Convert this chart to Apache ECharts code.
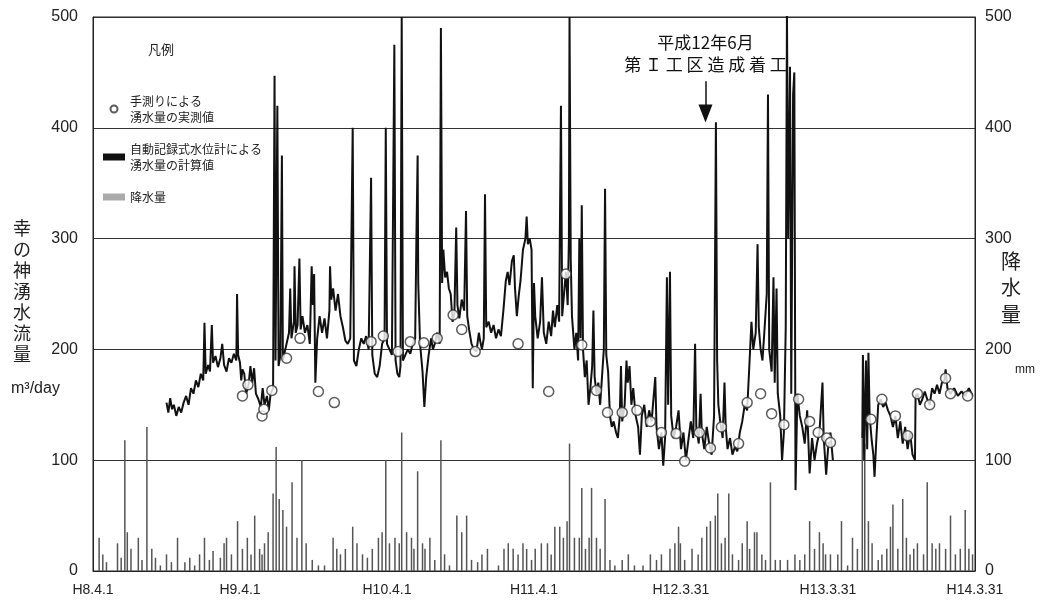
<!DOCTYPE html>
<html><head><meta charset="utf-8">
<script src="https://cdn.jsdelivr.net/npm/echarts@6/dist/echarts.min.js"></script>
<style>html,body{margin:0;padding:0;background:#fff}#c{width:1041px;height:605px}</style>
</head><body><div id="c"></div>
<script>
// x = months since H8.4.1
const xTickLabels = ['H8.4.1','H9.4.1','H10.4.1','H11.4.1','H12.3.31','H13.3.31','H14.3.31'];
const yTicks = [0,100,200,300,400,500];

const nameMeasured = '手測りによる\n湧水量の実測値';
const nameFlow = '自動記録式水位計による\n湧水量の計算値';
const nameRain = '降水量';

const flowData = [
[6.0,152],[6.15,143],[6.3,156],[6.45,146],[6.6,150],[6.8,140],[7.0,148],[7.2,143],[7.4,152],[7.6,158],[7.8,150],[8.0,165],[8.2,160],[8.4,172],[8.6,166],[8.8,178],[9.0,172],[9.1,224],[9.2,178],[9.4,186],[9.55,180],[9.7,222],[9.8,188],[10.0,194],[10.2,184],[10.4,192],[10.55,205],[10.7,186],[10.9,180],[11.1,192],[11.3,188],[11.5,196],[11.7,190],[11.76,250],[11.85,195],[12.0,188],[12.1,172],
[12.2,182],[12.35,178],[12.5,160],[12.7,168],[12.85,185],[13.0,170],[13.15,183],[13.3,160],[13.5,155],[13.7,148],[13.85,165],[14.0,150],[14.2,158],[14.35,145],[14.5,160],[14.7,165],[14.82,447],[14.9,190],[15.05,420],[15.15,185],[15.3,195],[15.42,375],[15.5,190],[15.7,200],
[15.8,205],[16.0,215],[16.1,255],[16.2,210],[16.4,225],[16.45,275],[16.55,215],[16.7,222],[16.85,282],[16.95,218],[17.1,230],[17.3,215],[17.5,222],[17.7,205],[17.85,275],[17.95,240],[18.05,268],[18.15,170],[18.3,210],[18.5,230],[18.7,215],[18.9,228],[19.1,210],[19.3,235],[19.35,275],[19.45,245],[19.6,255],[19.8,235],[20.0,250],[20.2,230],[20.4,220],[20.6,208],[20.8,205],[21.0,210],[21.2,400],[21.3,190],[21.5,185],[21.7,200],[21.9,210],[22.1,205],[22.3,212],[22.5,200],[22.7,355],[22.8,195],[23.0,178],[23.2,175],[23.4,185],[23.6,205],[23.8,210],[23.9,400],[24.0,205],
[24.2,200],[24.4,195],[24.6,475],[24.7,190],[24.85,178],[25.0,175],[25.1,185],[25.2,500],[25.3,190],[25.5,195],[25.7,200],[25.9,196],[26.1,205],[26.3,210],[26.4,300],[26.5,375],[26.55,260],[26.7,205],[26.9,180],[27.05,148],[27.2,175],[27.4,195],[27.6,210],[27.75,200],[27.9,205],[28.1,215],[28.3,205],[28.4,490],[28.5,260],[28.6,290],[28.75,265],[28.9,270],[29.05,255],[29.2,250],[29.35,225],[29.5,232],[29.65,310],[29.75,240],[29.9,228],[30.1,245],[30.3,235],[30.45,325],[30.55,230],[30.7,218],[30.9,205],[31.1,200],[31.3,198],[31.5,215],[31.6,208],[31.75,200],[31.9,210],[32.0,340],[32.1,220],[32.3,225],[32.5,215],[32.7,222],[32.9,210],[33.1,218],[33.3,212],[33.5,235],[33.7,262],[33.85,270],[34.0,258],[34.2,280],[34.35,285],[34.45,255],[34.6,230],[34.75,248],[34.9,262],[35.1,290],[35.3,300],[35.4,320],[35.5,295],[35.65,300],[35.8,290],[35.9,165],[36.0,260],
[36.1,230],[36.3,210],[36.5,225],[36.65,265],[36.8,215],[37.0,205],[37.2,225],[37.4,212],[37.55,235],[37.7,220],[37.9,240],[38.05,225],[38.2,420],[38.3,230],[38.45,250],[38.6,270],[38.75,240],[38.85,300],[38.9,500],[39.0,280],[39.1,230],[39.3,200],[39.45,215],[39.6,190],[39.7,300],[39.8,210],[39.9,330],[40.0,200],[40.15,175],[40.3,190],[40.45,150],[40.6,165],[40.75,185],[40.85,235],[40.95,175],[41.1,160],[41.25,170],[41.4,150],[41.55,175],[41.7,200],[41.8,345],[41.9,195],[42.05,180],[42.2,140],[42.35,130],[42.5,135],[42.7,125],[42.85,120],[43.0,140],[43.1,185],[43.2,135],[43.4,150],[43.55,190],[43.65,170],[43.8,185],[43.95,150],[44.1,165],[44.3,140],[44.5,130],[44.65,105],[44.8,140],[45.0,150],[45.2,130],[45.4,145],[45.6,135],[45.9,175],[46.0,130],[46.2,110],[46.4,125],[46.55,95],[46.7,120],[46.85,265],[46.95,150],[47.1,270],[47.2,140],[47.4,120],[47.6,130],[47.8,145],[48.0,110],
[48.2,125],[48.4,100],[48.6,118],[48.8,135],[49.0,120],[49.15,205],[49.25,130],[49.45,115],[49.6,160],[49.7,125],[49.9,110],[50.1,130],[50.3,115],[50.5,105],[50.7,140],[50.85,405],[50.95,190],[51.05,150],[51.2,135],[51.4,120],[51.55,170],[51.65,130],[51.8,110],[52.0,120],[52.2,105],[52.4,112],[52.6,108],[52.8,125],[53.0,135],[53.2,150],[53.4,145],[53.6,190],[53.75,225],[53.9,200],[54.1,215],[54.25,295],[54.35,220],[54.5,200],[54.65,190],[54.8,215],[55.0,250],[55.1,430],[55.2,200],[55.4,180],[55.55,265],[55.65,170],[55.8,255],[55.9,160],[56.1,140],[56.25,100],[56.4,125],[56.55,220],[56.65,505],[56.75,300],[56.9,455],[57.0,160],[57.15,430],[57.25,450],[57.35,73],[57.5,160],[57.7,140],[57.9,130],[58.1,115],[58.3,145],[58.5,88],[58.7,120],[58.9,100],[59.1,115],[59.3,125],[59.55,170],[59.65,120],[59.85,87],[60.0,110],[60.2,125],[60.4,100],
[61.5,'-'],
[62.8,120],[62.85,195],[62.95,100],[63.1,190],[63.2,110],[63.3,197],[63.4,140],[63.55,120],[63.7,105],[63.8,85],[63.95,120],[64.1,150],[64.3,155],[64.5,148],[64.7,152],[64.9,145],[65.1,140],[65.3,130],[65.5,140],[65.7,120],[65.9,135],[66.1,115],[66.3,130],[66.5,110],[66.7,125],[66.9,105],[67.1,100],[67.15,158],[67.3,160],[67.5,150],[67.7,155],[67.9,162],[68.1,155],[68.3,150],[68.5,165],[68.7,160],[68.9,168],[69.1,160],[69.3,170],[69.5,172],[69.6,182],[69.75,165],[70.0,160],[70.3,165],[70.6,158],[70.9,162],[71.2,158],[71.5,165],[71.8,158]
];

const measuredData = [
[12.2,158],[12.65,168],[13.8,140],[13.95,146],[14.6,163],[15.8,192],[16.9,210],[18.4,162],[19.7,152],[22.7,207],[23.7,212],[24.9,198],[25.9,207],[27.0,206],[28.1,210],[29.4,231],[30.1,218],[31.2,198],[34.7,205],[37.2,162],[38.6,268],[39.9,204],[41.1,163],[42.0,143],[43.2,143],[44.4,145],[45.5,135],[46.4,125],[47.6,124],[48.3,99],[49.5,125],[50.4,111],[51.3,130],[52.7,115],[53.4,152],[54.5,160],[55.4,142],[56.4,132],[57.6,155],[58.5,135],[59.2,125],[59.9,120],[60.2,116],[63.5,137],[64.4,155],[65.5,140],[66.5,122],[67.3,160],[68.3,150],[69.6,174],[70.0,160],[71.4,158]
];

const rainData = [
[0.5,30],[0.8,15],[1.1,8],[2.0,25],[2.3,12],[2.6,118],[2.8,35],[3.1,20],[3.7,30],[4.0,10],[4.4,130],[4.8,20],[5.1,12],[5.5,5],[6.0,15],[6.4,8],[6.9,30],[7.5,8],[7.9,12],[8.3,5],[8.7,15],[9.1,30],[9.5,10],[9.8,18],[10.4,12],[10.7,25],[10.9,30],[11.3,15],[11.8,45],
[12.2,20],[12.6,30],[12.9,15],[13.2,50],[13.6,20],[13.8,15],[14.0,25],[14.3,35],[14.7,70],[14.95,112],[15.2,65],[15.5,55],[15.8,40],[16.25,80],[16.65,30],[17.05,100],[17.4,25],[17.9,10],[18.4,5],[18.9,5],[19.6,30],[19.9,20],[20.2,15],[20.6,20],[21.2,40],[21.55,25],[22.0,15],[22.4,12],[22.8,20],[23.3,30],[23.6,35],
[23.9,100],[24.2,25],[24.65,30],[25.0,25],[25.2,125],[25.6,35],[26.0,30],[26.2,20],[26.5,90],[26.9,25],[27.1,20],[27.5,30],[27.9,10],[28.4,118],[28.7,15],[29.1,5],[29.7,50],[30.1,35],[30.5,50],[30.9,10],[31.4,8],[31.75,15],[32.2,20],[33.1,5],[33.55,20],[33.9,25],[34.3,20],[34.7,15],[35.1,25],[35.4,20],[35.8,10],
[36.1,20],[36.6,25],[37.1,25],[37.4,15],[37.7,40],[38.1,40],[38.4,30],[38.7,45],[38.9,115],[39.3,30],[39.7,30],[39.9,75],[40.2,20],[40.5,30],[40.7,75],[41.1,30],[41.4,20],[41.8,65],[42.2,10],[42.6,5],[43.2,10],[43.7,15],[44.2,5],[44.9,5],[45.5,15],[46.0,10],[46.4,15],[47.1,20],[47.5,25],[47.8,40],
[47.95,25],[48.3,10],[48.9,20],[49.4,15],[49.7,30],[50.1,40],[50.4,45],[50.8,50],[51.0,70],[51.3,25],[51.6,30],[51.9,70],[52.2,15],[52.7,10],[53.0,25],[53.4,45],[53.6,20],[54.0,35],[54.2,35],[54.6,15],[54.9,10],[55.3,80],[55.7,10],[56.1,10],[56.7,10],[57.3,15],[57.7,10],[58.1,15],[58.5,45],[58.9,20],[59.3,35],[59.6,25],
[59.8,15],[60.2,15],[60.8,15],[61.1,45],[61.6,5],[62.0,30],[62.4,20],[62.8,120],[63.0,115],[63.3,45],[63.6,25],[64.1,10],[64.4,15],[64.8,20],[65.1,40],[65.3,60],[65.7,20],[66.1,65],[66.4,30],[66.7,15],[67.0,20],[67.3,25],[67.8,15],[68.1,80],[68.5,25],[68.8,20],[69.1,25],[69.6,20],[70.0,50],[70.4,15],[70.8,20],[71.2,55],[71.5,20],[71.8,15]
];

const constructionMonth = 50; // H12.6
const annotationText = '平成12年6月\n第 Ｉ 工 区 造 成 着 工';

const chart = echarts.init(document.getElementById('c'), null, {renderer:'canvas'});
const numFont = 'Liberation Sans, Arial, sans-serif';
const jpFont = 'Noto Sans CJK JP, sans-serif';

chart.setOption({
  animation: false,
  backgroundColor: '#fff',
  title: {text: '凡例', left: 143, top: 38, textStyle: {fontSize: 13, fontWeight: 'normal', color: '#222', fontFamily: jpFont}},
  legend: {
    orient: 'vertical', left: 98, top: 88, itemWidth: 22, itemHeight: 7, itemGap: 16,
    selectedMode: false,
    textStyle: {fontSize: 12, lineHeight: 16, color: '#222', fontFamily: jpFont},
    data: [
      {name: nameMeasured, icon: 'circle'},
      {name: nameFlow, icon: 'rect'},
      {name: nameRain, icon: 'rect', itemStyle: {color: '#aaa'}}
    ]
  },
  grid: {left: 93, right: 66, top: 17, bottom: 34, show: true, borderColor: '#222', borderWidth: 1},
  xAxis: {
    type: 'value', min: 0, max: 72, interval: 12,
    axisLine: {show: true, lineStyle: {color: '#222'}},
    axisTick: {show: false}, splitLine: {show: false},
    axisLabel: {formatter: v => xTickLabels[Math.round(v/12)], fontSize: 14, color: '#222', margin: 12, fontFamily: numFont}
  },
  yAxis: [
    {type: 'value', min: 0, max: 500, interval: 100,
     axisLine: {show: true, lineStyle: {color: '#222'}}, axisTick: {show: false},
     splitLine: {show: true, lineStyle: {color: '#333', width: 1}},
     axisLabel: {fontSize: 16, color: '#222', margin: 15, fontFamily: numFont}},
    {type: 'value', min: 0, max: 500, interval: 100, position: 'right',
     axisLine: {show: true, lineStyle: {color: '#222'}}, axisTick: {show: false},
     splitLine: {show: false},
     axisLabel: {fontSize: 16, color: '#222', margin: 10, fontFamily: numFont}}
  ],
  graphic: [
    {type: 'text', left: 13, top: 218, style: {text: '幸\nの\n神\n湧\n水\n流\n量', font: '18px Noto Sans CJK JP', lineHeight: 21, fill: '#222'}},
    {type: 'text', left: 11, top: 381, style: {text: 'm³/day', font: '16px Liberation Sans', fill: '#222'}},
    {type: 'text', left: 1001, top: 248, style: {text: '降\n水\n量', font: '20px Noto Sans CJK JP', lineHeight: 26.5, fill: '#222'}},
    {type: 'text', left: 1015, top: 364, style: {text: 'mm', font: '12px Liberation Sans', fill: '#222'}}
  ],
  series: [
    {name: nameRain, type: 'bar', yAxisIndex: 1, data: rainData, barWidth: 1.5,
     itemStyle: {color: '#555'}, z: 1, silent: true},
    {name: nameFlow, type: 'line', data: flowData, showSymbol: false, symbol: 'none',
     lineStyle: {color: '#111', width: 2}, itemStyle: {color: '#111'}, z: 3, connectNulls: false,
     markLine: {
       silent: true, symbol: ['none', 'triangle'], symbolSize: [14, 18],
       lineStyle: {color: '#111', width: 1.5, type: 'solid'},
       label: {show: true, position: 'start', formatter: annotationText, fontSize: 17, lineHeight: 22,
               color: '#111', fontFamily: jpFont, distance: 6},
       data: [[{coord: [constructionMonth, 442]}, {coord: [constructionMonth, 413]}]]
     }},
    {name: nameMeasured, type: 'scatter', data: measuredData, symbol: 'circle', symbolSize: 10,
     itemStyle: {color: '#fff', borderColor: '#333', borderWidth: 1.5}, z: 5}
  ]
});
</script>
</body></html>
